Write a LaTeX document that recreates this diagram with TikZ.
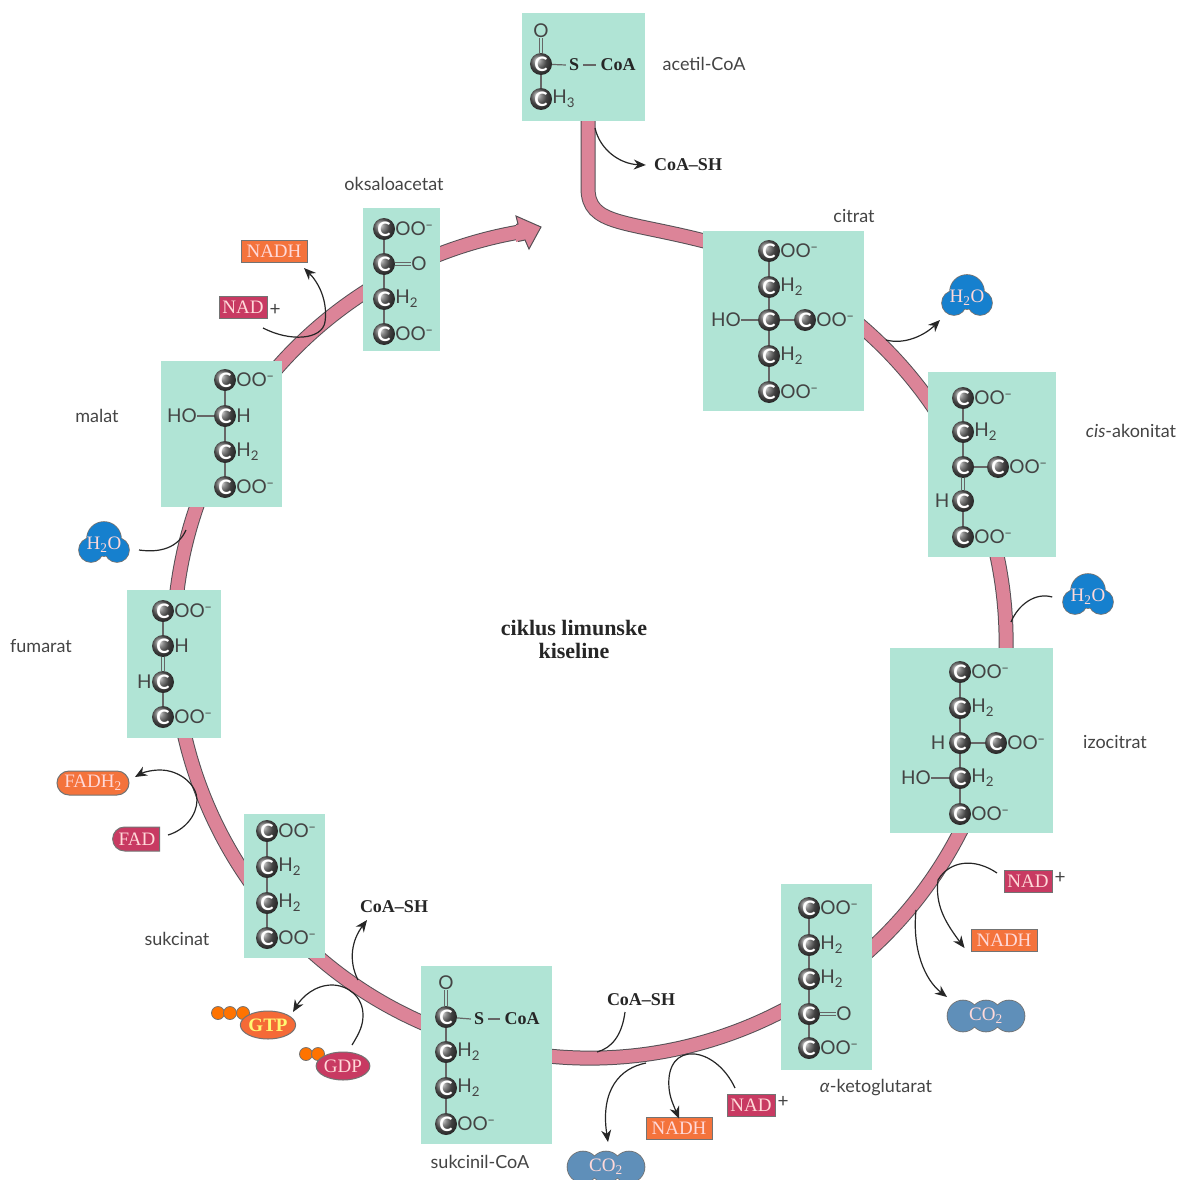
\documentclass[tikz,border=0pt]{standalone}
\usepackage{fontspec}
\usepackage{tikz}
\usetikzlibrary{arrows.meta}
\usetikzlibrary{positioning}
\usetikzlibrary{shapes.geometric}
\usetikzlibrary{shapes.misc}
\setmainfont{Lato}
\newfontfamily\boldserif{Liberation Serif}
\definecolor{boxgreen}{HTML}{B0E4D5}
\definecolor{ringpink}{HTML}{DC8498}
\definecolor{ringedge}{HTML}{555055}
\definecolor{inktext}{HTML}{444444}
\definecolor{nadred}{HTML}{C83A62}
\definecolor{nadhorange}{HTML}{F4733C}
\definecolor{waterblue}{HTML}{1680CE}
\definecolor{carbonblue}{HTML}{5F8FB9}
\tikzset{
    ring/.style={line width=1pt, draw=ringedge, double=ringpink, double distance=13pt},
    molbox/.style={fill=boxgreen},
    carbon/.style={circle, inner sep=0pt, minimum size=22pt, shading=ball, ball color=black!62, text=white, font=\fontsize{20}{20}\selectfont\bfseries},
    grp/.style={inner sep=0pt, text=inktext, font=\fontsize{19}{20}\selectfont},
    boldgrp/.style={inner sep=0pt, text=black!85, font=\fontsize{18}{20}\selectfont\boldserif\bfseries},
    bond/.style={draw=black!60, line width=1.2pt},
    dblbond/.style={draw=black!60, line width=0.9pt, double=boxgreen, double distance=1.8pt},
    molname/.style={inner sep=0pt, text=inktext, font=\fontsize{18}{20}\selectfont},
    flow/.style={draw=black!85, line width=1.2pt},
    flowarr/.style={flow, -{Stealth[length=12pt,width=10pt]}},
    cofac/.style={draw=black!55, line width=1pt, text=white!85!red, inner sep=0pt, font=\fontsize{19}{20}\selectfont\boldserif},
    nadbox/.style={cofac, rectangle, fill=nadred, minimum width=48pt, minimum height=22pt},
    nadhbox/.style={cofac, rectangle, fill=nadhorange, minimum width=66pt, minimum height=22pt},
    phos/.style={circle, draw=black!55, fill=orange!90!red, line width=0.8pt, minimum size=13pt, inner sep=0pt},
}
\newcommand{\chain}[3]{\foreach \y [count=\i] in {#3} {\node[carbon] (#1\i) at (#2,\y) {C};}}
\newcommand{\coo}{OO\textsuperscript{\kern-0.5pt–}}
\newcommand{\waterblob}[3]{%
    \foreach \dx/\dy/\rr in {0/-6/17,-13/5/12,13/5/12} {\draw[black!55, line width=1.6pt] (#2+\dx,#3+\dy) circle[radius=\rr];}
    \foreach \dx/\dy/\rr in {0/-6/17,-13/5/12,13/5/12} {\fill[waterblue] (#2+\dx,#3+\dy) circle[radius=\rr];}
    \node[cofac, draw=none] (#1) at (#2,#3) {H\textsubscript{2}O};}
\newcommand{\carbblob}[3]{%
    \foreach \dx in {-23,0,23} {\draw[black!55, line width=1.6pt] (#2+\dx,#3) circle[radius=15.5];}
    \foreach \dx in {-23,0,23} {\fill[carbonblue] (#2+\dx,#3) circle[radius=15.5];}
    \node[cofac, draw=none] (#1) at (#2,#3) {CO\textsubscript{2}};}
\begin{document}
\begin{tikzpicture}[x=1pt,y=-1pt]
\useasboundingbox (0,0) rectangle (1179,1180);
% ring
\coordinate (hub) at (590,642);
\draw[ring] (hub) ++(-68:416) arc[start angle=-68, end angle=260, radius=416];
\draw[ring] (588,120) -- (588,188) .. controls (588,226) and (625,220) .. (712,243);
\coordinate (headA) at (516,216);
\coordinate (headB) at (541,227);
\coordinate (headC) at (529,249);
\fill[ringpink] (516,224) -- (518,224) -- (headA) -- (headB) -- (headC) -- (525,240) -- (516,242) -- cycle;
\draw[ringedge, line width=1pt, line join=miter] (516,224.5) -- (518,224) -- (headA) -- (headB) -- (headC) -- (525,240) -- (518,241.5);
% boxes
\fill[molbox] (522,13) rectangle (645,121);
\fill[molbox] (703,231) rectangle (864,411);
\fill[molbox] (928,372) rectangle (1056,557);
\fill[molbox] (890,648) rectangle (1053,833);
\fill[molbox] (781,884) rectangle (872,1070);
\fill[molbox] (421,966) rectangle (552,1144);
\fill[molbox] (244,814) rectangle (325,958);
\fill[molbox] (127,590) rectangle (221,738);
\fill[molbox] (161,361) rectangle (282,507);
\fill[molbox] (363,208) rectangle (440,351);
% acetil-CoA
\chain{ace}{541}{64,99}
\node[grp] (aceO) at (541,31) {O};
\node[boldgrp] (aceS) at (574,65) {S};
\node[boldgrp] (aceR) at (618,65) {CoA};
\node[grp, right=0pt of ace2] (aceH) {H\textsubscript{3}};
\draw[dblbond] (aceO) -- (ace1);
\draw[bond] (ace1) -- (ace2);
\draw[bond] (ace1) -- ([xshift=-3pt]aceS.west);
\draw[bond] ([xshift=4pt]aceS.east) -- ([xshift=-4pt]aceR.west);
% citrat
\chain{cit}{769}{251,287,320,356,392}
\node[carbon] (citC) at (805,320) {C};
\node[grp, right=0pt of cit1] (citA) {\coo};
\node[grp, right=0pt of cit2] (citB) {H\textsubscript{2}};
\node[grp, right=0pt of citC] (citD) {\coo};
\node[grp, right=0pt of cit4] (citE) {H\textsubscript{2}};
\node[grp, right=0pt of cit5] (citF) {\coo};
\node[grp] (citHO) at (726,320) {HO};
\draw[bond] (cit1) -- (cit2) -- (cit3) -- (cit4) -- (cit5);
\draw[bond] (cit3) -- (citC);
\draw[bond] (citHO) -- (cit3);
% cis-akonitat
\chain{cis}{963}{398,432,467,501,537}
\node[carbon] (cisC) at (998,467) {C};
\node[grp, right=0pt of cis1] (cisA) {\coo};
\node[grp, right=0pt of cis2] (cisB) {H\textsubscript{2}};
\node[grp, right=0pt of cisC] (cisD) {\coo};
\node[grp, right=0pt of cis5] (cisE) {\coo};
\node[grp] (cisH) at (942,501) {H};
\draw[bond] (cis1) -- (cis2) -- (cis3);
\draw[dblbond] (cis3) -- (cis4);
\draw[bond] (cis4) -- (cis5);
\draw[bond] (cis3) -- (cisC);
% izocitrat
\chain{izo}{960}{672,708,743,778,814}
\node[carbon] (izoC) at (996,743) {C};
\node[grp, right=0pt of izo1] (izoA) {\coo};
\node[grp, right=0pt of izo2] (izoB) {H\textsubscript{2}};
\node[grp, right=0pt of izoC] (izoD) {\coo};
\node[grp, right=0pt of izo4] (izoE) {H\textsubscript{2}};
\node[grp, right=0pt of izo5] (izoF) {\coo};
\node[grp] (izoH) at (938,743) {H};
\node[grp] (izoHO) at (916,778) {HO};
\draw[bond] (izo1) -- (izo2) -- (izo3) -- (izo4) -- (izo5);
\draw[bond] (izo3) -- (izoC);
\draw[bond] (izoHO) -- (izo4);
% alfa-ketoglutarat
\chain{ket}{809}{908,945,979,1014,1048}
\node[grp, right=0pt of ket1] (ketA) {\coo};
\node[grp, right=0pt of ket2] (ketB) {H\textsubscript{2}};
\node[grp, right=0pt of ket3] (ketD) {H\textsubscript{2}};
\node[grp] (ketO) at (844,1014) {O};
\node[grp, right=0pt of ket5] (ketE) {\coo};
\draw[bond] (ket1) -- (ket2) -- (ket3) -- (ket4) -- (ket5);
\draw[dblbond] (ket4) -- (ketO);
% sukcinil-CoA
\chain{suc}{446}{1017,1052,1088,1124}
\node[grp] (sucO) at (446,983) {O};
\node[boldgrp] (sucS) at (479,1019) {S};
\node[boldgrp] (sucR) at (522,1019) {CoA};
\node[grp, right=0pt of suc2] (sucA) {H\textsubscript{2}};
\node[grp, right=0pt of suc3] (sucB) {H\textsubscript{2}};
\node[grp, right=0pt of suc4] (sucD) {\coo};
\draw[dblbond] (sucO) -- (suc1);
\draw[bond] (suc1) -- (suc2) -- (suc3) -- (suc4);
\draw[bond] (suc1) -- ([xshift=-3pt]sucS.west);
\draw[bond] ([xshift=4pt]sucS.east) -- ([xshift=-4pt]sucR.west);
% sukcinat
\chain{sat}{267}{831,867,903,938}
\node[grp, right=0pt of sat1] (satA) {\coo};
\node[grp, right=0pt of sat2] (satB) {H\textsubscript{2}};
\node[grp, right=0pt of sat3] (satD) {H\textsubscript{2}};
\node[grp, right=0pt of sat4] (satE) {\coo};
\draw[bond] (sat1) -- (sat2) -- (sat3) -- (sat4);
% fumarat
\chain{fum}{163}{611,646,682,717}
\node[grp, right=0pt of fum1] (fumA) {\coo};
\node[grp, right=0pt of fum2] (fumB) {H};
\node[grp, left=0pt of fum3] (fumD) {H};
\node[grp, right=0pt of fum4] (fumE) {\coo};
\draw[bond] (fum1) -- (fum2);
\draw[dblbond] (fum2) -- (fum3);
\draw[bond] (fum3) -- (fum4);
% malat
\chain{mal}{225}{380,416,452,487}
\node[grp, right=0pt of mal1] (malA) {\coo};
\node[grp, right=0pt of mal2] (malB) {H};
\node[grp, right=0pt of mal3] (malD) {H\textsubscript{2}};
\node[grp, right=0pt of mal4] (malE) {\coo};
\node[grp] (malHO) at (182,416) {HO};
\draw[bond] (mal1) -- (mal2) -- (mal3) -- (mal4);
\draw[bond] (malHO) -- (mal2);
% oksaloacetat
\chain{oks}{384}{229,264,299,334}
\node[grp, right=0pt of oks1] (oksA) {\coo};
\node[grp] (oksO) at (419,264) {O};
\node[grp, right=0pt of oks3] (oksB) {H\textsubscript{2}};
\node[grp, right=0pt of oks4] (oksD) {\coo};
\draw[bond] (oks1) -- (oks2) -- (oks3) -- (oks4);
\draw[dblbond] (oks2) -- (oksO);
% names
\node[molname] (nAce) at (704,64) {acetil-CoA};
\node[molname] (nCit) at (854,216) {citrat};
\node[molname] (nCis) at (1131,431) {\textit{cis}-akonitat};
\node[molname] (nIzo) at (1115,742) {izocitrat};
\node[molname] (nKet) at (876,1088) {\textit{α}-ketoglutarat};
\node[molname] (nSuc) at (480,1162) {sukcinil-CoA};
\node[molname] (nSat) at (177,939) {sukcinat};
\node[molname] (nFum) at (41,646) {fumarat};
\node[molname] (nMal) at (97,416) {malat};
\node[molname] (nOks) at (394,184) {oksaloacetat};
\node[boldgrp, align=center, font=\fontsize{22}{23}\selectfont\boldserif\bfseries] (title) at (574,639) {ciklus limunske\\kiseline};
% cofactors
\node[boldgrp] (coaT) at (688,165) {CoA–SH};
\node[boldgrp] (coaB) at (641,1000) {CoA–SH};
\node[boldgrp] (coaL) at (394,907) {CoA–SH};
\waterblob{wCit}{967}{298}
\waterblob{wIzo}{1088}{597}
\waterblob{wMal}{104}{545}
\carbblob{co2R}{986}{1016}
\carbblob{co2B}{606}{1167}
\node[nadbox] (nadR) at (1028,881) {NAD};
\node[grp, right=2pt of nadR, yshift=3pt] (plusR) {+};
\node[nadhbox] (nadhR) at (1004,940) {NADH};
\node[nadbox] (nadB) at (751,1105) {NAD};
\node[grp, right=2pt of nadB, yshift=3pt] (plusB) {+};
\node[nadhbox] (nadhB) at (679,1128) {NADH};
\node[nadbox] (nadL) at (243,307) {NAD};
\node[grp, right=2pt of nadL, yshift=-3pt] (plusL) {+};
\node[nadhbox] (nadhL) at (274,251) {NADH};
\node[cofac, rounded rectangle, rounded rectangle right arc=none, fill=nadred, minimum width=47pt, minimum height=24pt] (fad) at (137,839) {FAD};
\node[cofac, rounded rectangle, fill=nadhorange, minimum width=72pt, minimum height=24pt] (fadh) at (93,783) {FADH\textsubscript{2}};
\node[phos] (gdpP1) at (306,1054) {};
\node[phos] (gdpP2) at (318,1054) {};
\node[cofac, ellipse, fill=nadred, minimum width=50pt, minimum height=28pt] (gdp) at (343,1066) {GDP};
\node[phos] (gtpP1) at (218,1013) {};
\node[phos] (gtpP2) at (230,1013) {};
\node[phos] (gtpP3) at (243,1013) {};
\node[cofac, ellipse, fill=nadhorange!92!red, text=yellow!55!white, minimum width=51pt, minimum height=28pt, font=\fontsize{19}{20}\selectfont\boldserif\bfseries] (gtp) at (268,1025) {GTP};
% attachment points on the ring
\coordinate (onTop) at (595,128);
\coordinate (onCit) at (886,340);
\coordinate (onIzo) at (1011,622);
\coordinate (onKet) at (916,910);
\coordinate (onNad) at (938,880);
\coordinate (onBtm) at (597,1052);
\coordinate (onCo2) at (646,1063);
\coordinate (onSat) at (358,980);
\coordinate (onMal) at (186,530);
\coordinate (onOks) at (325,322);
\coordinate (onFad) at (197,800);
\coordinate (onGtp) at (363,1015);
% connectors
\draw[flowarr] (onTop) .. controls (600,150) and (620,164) .. ([xshift=-8pt]coaT.west);
\draw[flowarr] (onCit) .. controls (905,345) and (925,335) .. (940,320);
\draw[flow] ([xshift=-18pt]wIzo.west) .. controls (1035,592) and (1018,605) .. (onIzo);
\draw[flowarr] (997,873) .. controls (975,858) and (950,860) .. (onNad) .. controls (935,905) and (945,922) .. ([xshift=-6pt,yshift=-8pt]nadhR.west);
\draw[flowarr] (onKet) .. controls (912,950) and (925,980) .. (947,997);
\draw[flowarr] (735,1088) .. controls (715,1045) and (665,1040) .. (669,1088) .. controls (670,1098) and (673,1104) .. ([yshift=-2pt]nadhB.north);
\draw[flowarr] (onCo2) .. controls (620,1068) and (600,1090) .. (608,1142);
\draw[flow] (625,1012) .. controls (622,1035) and (612,1048) .. (onBtm);
\draw[flowarr] (onSat) .. controls (348,960) and (352,940) .. (367,920);
\draw[flowarr] (352,1045) .. controls (360,1032) and (363,1025) .. (onGtp) .. controls (363,997) and (348,985) .. (332,985) .. controls (315,985) and (302,997) .. (293,1012);
\draw[flow] (139,550) .. controls (160,553) and (178,548) .. (onMal);
\draw[flowarr] (263,328) .. controls (290,342) and (322,340) .. (onOks) .. controls (328,300) and (318,282) .. (304,268);
\draw[flowarr] (168,835) .. controls (185,830) and (197,815) .. (onFad) .. controls (197,785) and (180,770) .. (160,770) .. controls (150,770) and (142,773) .. (135,777);
\end{tikzpicture}
\end{document}
